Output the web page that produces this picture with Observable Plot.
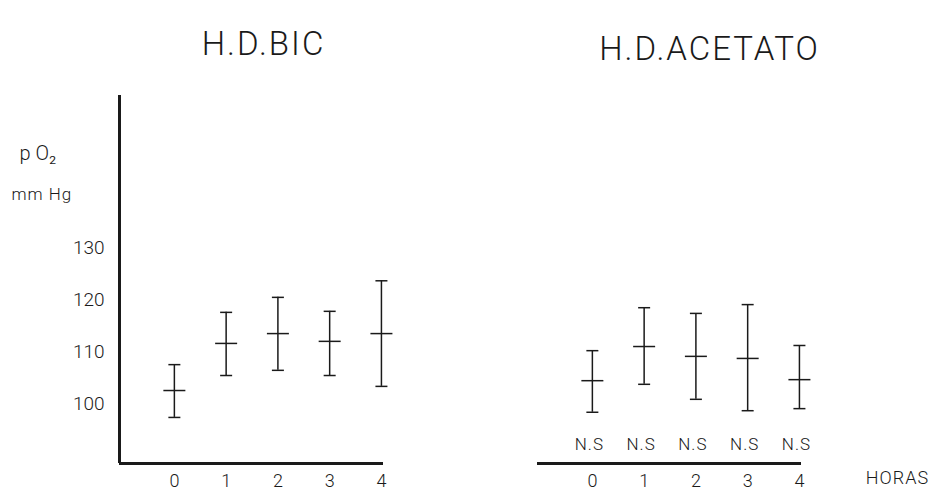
<!DOCTYPE html>
<html>
<head>
<meta charset="utf-8">
<script src="https://cdn.jsdelivr.net/npm/d3@7"></script>
<script src="https://cdn.jsdelivr.net/npm/@observablehq/plot@0.6"></script>
<style>
  html, body { margin: 0; padding: 0; background: white; }
</style>
</head>
<body>
<div id="chart"></div>
<script>
// ---- data ----
const panels = ["H.D.BIC", "H.D.ACETATO"];
const horas = [0, 1, 2, 3, 4];
const yTicks = [100, 110, 120, 130];

const bicMean = [102.5, 111.6, 113.5, 112.0, 113.5];
const bicLow  = [97.3, 105.4, 106.4, 105.4, 103.3];
const bicHigh = [107.5, 117.6, 120.5, 117.8, 123.7];

const aceMean = [104.4, 111.0, 109.1, 108.7, 104.6];
const aceLow  = [98.3, 103.7, 100.8, 98.6, 99.0];
const aceHigh = [110.2, 118.5, 117.4, 119.1, 111.2];

const nsLabels = ["N.S", "N.S", "N.S", "N.S", "N.S"];

const yLabel1 = "p O₂";
const yLabel2 = "mm Hg";
const xLabel = "HORAS";

// ---- build table ----
const rows = [];
horas.forEach((h, i) => {
  rows.push({panel: panels[0], hora: h, mean: bicMean[i], lo: bicLow[i], hi: bicHigh[i]});
});
horas.forEach((h, i) => {
  rows.push({panel: panels[1], hora: h, mean: aceMean[i], lo: aceLow[i], hi: aceHigh[i], ns: nsLabels[i]});
});

const xDomain = [-1.06, 4.04];
const yDomain = [88.4, 159.5];

// horizontal line symbol for means and caps
const hline = {
  draw(ctx, size) {
    const r = Math.sqrt(size / Math.PI);
    ctx.moveTo(-r, 0);
    ctx.lineTo(r, 0);
  }
};

const ink = "#1a1a1a";

const chart = Plot.plot({
  width: 938,
  height: 495,
  marginLeft: 118,
  marginRight: 136,
  marginTop: 95,
  marginBottom: 32,
  style: {fontFamily: "Roboto, 'Liberation Sans', sans-serif", fontWeight: 300, fontSize: "18px", color: ink, background: "white"},
  fx: {domain: panels, paddingInner: 0.3675, paddingOuter: 0, axis: null, label: null},
  x: {domain: xDomain, axis: null},
  y: {domain: yDomain, axis: null},
  marks: [
    // axes lines
    Plot.ruleY([{panel: panels[0]}, {panel: panels[1]}], {fx: "panel", y: () => yDomain[0], stroke: ink, strokeWidth: 3}),
    Plot.ruleX([{panel: panels[0]}], {fx: "panel", x: () => xDomain[0], stroke: ink, strokeWidth: 3}),
    // y tick labels (left panel only)
    Plot.axisY({ticks: yTicks, tickSize: 0, tickPadding: 15, label: null, fontSize: 19}),
    // x tick labels
    Plot.axisX({ticks: horas, tickSize: 0, tickPadding: 11, label: null, fontSize: 18, tickFormat: d => String(d)}),
    // error bars
    Plot.ruleX(rows, {fx: "panel", x: "hora", y1: "lo", y2: "hi", stroke: ink, strokeWidth: 1.5}),
    Plot.dot(rows, {fx: "panel", x: "hora", y: "lo", symbol: hline, r: 6, stroke: ink, strokeWidth: 1.5}),
    Plot.dot(rows, {fx: "panel", x: "hora", y: "hi", symbol: hline, r: 6, stroke: ink, strokeWidth: 1.5}),
    Plot.dot(rows, {fx: "panel", x: "hora", y: "mean", symbol: hline, r: 11, stroke: ink, strokeWidth: 1.5}),
    // N.S labels
    Plot.text(rows.filter(d => d.ns), {fx: "panel", x: "hora", text: "ns", frameAnchor: "bottom", dy: -14, dx: -3, fontSize: 17, fill: ink}),
    // panel titles
    Plot.text([panels[0]], {fx: d => d, text: d => d, frameAnchor: "top", dy: -64, dx: 12, fontSize: 33, fill: ink}),
    Plot.text([panels[1]], {fx: d => d, text: d => d, frameAnchor: "top", dy: -59, dx: 40, fontSize: 33, fill: ink}),
    // y-axis labels
    Plot.text([yLabel1], {fx: () => panels[0], text: d => d, frameAnchor: "top-left", textAnchor: "start", dx: -100, dy: 50, fontSize: 20, fill: ink}),
    Plot.text([yLabel2], {fx: () => panels[0], text: d => d, frameAnchor: "top-left", textAnchor: "start", dx: -108, dy: 92, fontSize: 17, fill: ink}),
    // x-axis label
    Plot.text([xLabel], {fx: () => panels[1], text: d => d, frameAnchor: "bottom-right", textAnchor: "middle", dx: 96, dy: 20, fontSize: 18, fill: ink})
  ]
});

// letter spacing for the hand-lettered look
d3.select(chart).selectAll("text").each(function() {
  const t = this.textContent;
  if (panels.includes(t)) this.setAttribute("letter-spacing", "2");
  else if (t === xLabel || t === "N.S" || t === yLabel2) this.setAttribute("letter-spacing", "1");
});

document.getElementById("chart").appendChild(chart);
</script>
</body>
</html>
